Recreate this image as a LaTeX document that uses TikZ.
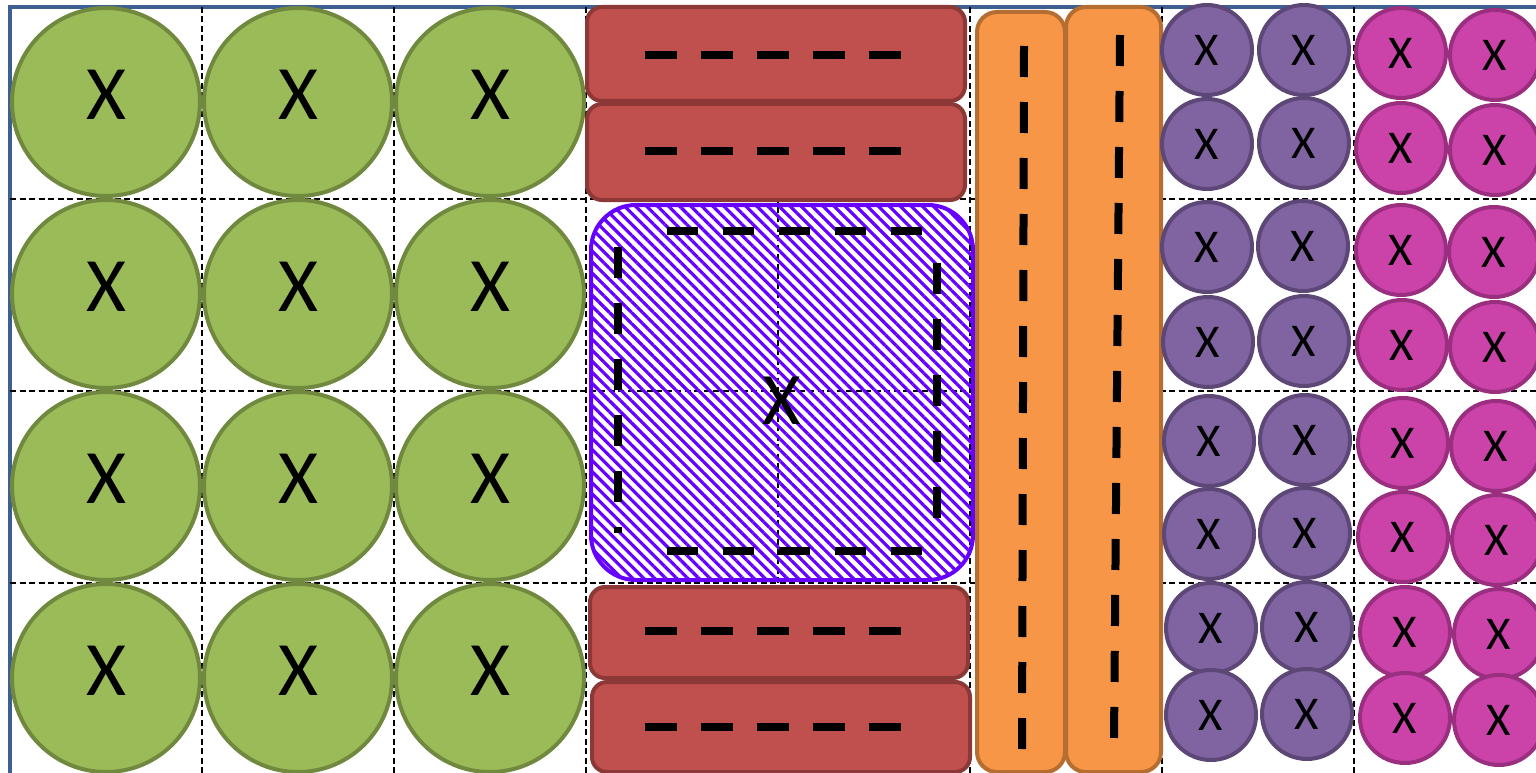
\documentclass[tikz,border=0pt]{standalone}
\usepackage{fontspec}
\setmainfont{Carlito}
\usetikzlibrary{patterns.meta}
\definecolor{grnf}{HTML}{9BBB59}
\definecolor{grnd}{HTML}{71893F}
\definecolor{redf}{HTML}{C0504D}
\definecolor{redd}{HTML}{8C3836}
\definecolor{orf}{HTML}{F79646}
\definecolor{ord}{HTML}{B66D31}
\definecolor{prpf}{HTML}{8064A2}
\definecolor{prpd}{HTML}{5C4776}
\definecolor{magf}{HTML}{CB43A9}
\definecolor{magd}{HTML}{9A2F80}
\definecolor{hatchc}{HTML}{6600FF}
\definecolor{framec}{HTML}{3D5F91}
\begin{document}
\begin{tikzpicture}[x=1pt,y=-1pt,
  grn/.style={circle, draw=grnd, fill=grnf, line width=4pt, minimum size=188pt, inner sep=0pt,
    font=\fontsize{77}{77}\selectfont, text height=49pt, text depth=14pt},
  prp/.style={circle, draw=prpd, fill=prpf, line width=4pt, minimum size=90pt, inner sep=0pt,
    font=\fontsize{47}{47}\selectfont},
  mag/.style={circle, draw=magd, fill=magf, line width=4pt, minimum size=90pt, inner sep=0pt,
    font=\fontsize{47}{47}\selectfont},
  redbox/.style={rectangle, rounded corners=15pt, draw=redd, fill=redf, line width=4pt,
    minimum width=378pt, inner sep=0pt},
  orbox/.style={rectangle, rounded corners=20pt, draw=ord, fill=orf, line width=4pt, inner sep=0pt},
  hatchbox/.style={rectangle, rounded corners=45pt, draw=hatchc, line width=4pt,
    pattern={Lines[angle=-45,distance=7.8pt,line width=3.2pt]}, pattern color=hatchc,
    minimum width=382pt, minimum height=375pt, inner sep=0pt,
    font=\fontsize{74}{74}\selectfont, text height=64pt, text depth=0pt},
  gridline/.style={black, line width=1.8pt, dash pattern=on 6pt off 3.5pt},
  bigdash/.style={black, line width=8pt, dash pattern=on 31pt off 25pt},
  reddash/.style={black, line width=8pt, dash pattern=on 32pt off 24pt},
  framebox/.style={draw=framec, line width=4pt}
]
\clip (0,0) rectangle (1536,773);
\fill[white] (0,0) rectangle (1536,773);
% frame
\draw[framebox] (10,7) rectangle (1546,774.5);
% grid
\foreach \gx in {202,394,586,778,970,1162,1354}
  \draw[gridline] (\gx,7) -- (\gx,773);
\foreach \gy in {199,391,583}
  \draw[gridline] (10,\gy) -- (1536,\gy);
% green circles
\foreach \i in {0,1,2}
  \foreach \j in {0,1,2,3}
    \node[grn] (g\i\j) at ({106+192*\i},{102+192*\j}) {X};
% red boxes
\node[redbox, minimum height=94pt] (r1) at (776,54) {};
\node[redbox, minimum height=96pt] (r2) at (776,152) {};
\node[redbox, minimum height=91pt] (r3) at (779,632.5) {};
\node[redbox, minimum height=90pt] (r4) at (781,727) {};
\draw[reddash] (645,55) -- (901,55);
\draw[reddash] (645,151) -- (901,151);
\draw[reddash] (645,631) -- (901,631);
\draw[reddash] (645,727) -- (901,727);
% hatched box
\node[hatchbox] (hb) at (782,392.5) {X};
\draw[bigdash] (667,231) -- (922,231);
\draw[bigdash] (667,551) -- (922,551);
\draw[bigdash] (618,247) -- (618,533);
\draw[bigdash] (937,263) -- (937,518);
% orange boxes
\node[orbox, minimum width=88pt, minimum height=760pt] (o1) at (1021,392) {};
\node[orbox, minimum width=95pt, minimum height=765pt] (o2) at (1113.5,389.5) {};
\draw[bigdash] (1024,46) -- (1022,749);
\draw[bigdash] (1120,35) -- (1114,739);
% purple circles
\foreach \n/\px/\py in {1/1207/50, 2/1304/50, 3/1207/144, 4/1304/143, 5/1207/247, 6/1303/246,
  7/1208/342, 8/1304/341, 9/1209/441, 10/1305/440, 11/1209/534, 12/1305/533,
  13/1211/628, 14/1307/627, 15/1211/715, 16/1307/714}
  \node[prp] (p\n) at (\px,\py) {X};
% magenta circles
\foreach \n/\px/\py in {1/1401/53, 2/1495/55, 3/1401/148, 4/1495/150, 5/1401/250, 6/1494/252,
  7/1402/345, 8/1495/347, 9/1403/443, 10/1496/446, 11/1403/537, 12/1497/540,
  13/1405/632, 14/1499/634, 15/1405/718, 16/1499/720}
  \node[mag] (m\n) at (\px,\py) {X};
\end{tikzpicture}
\end{document}
